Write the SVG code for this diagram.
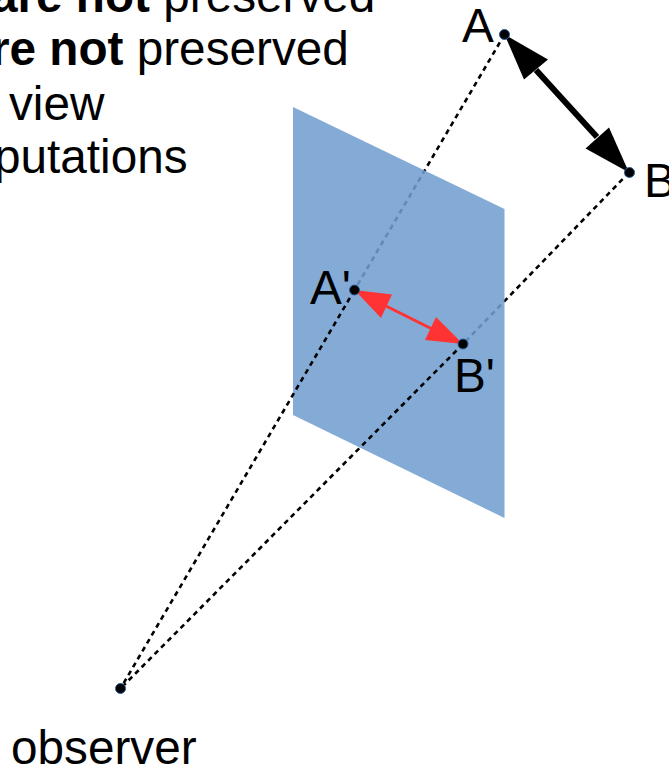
<svg xmlns="http://www.w3.org/2000/svg" width="669" height="767" viewBox="0 0 669 767">
<style>
text{font-family:"Liberation Sans",Arial,sans-serif;font-size:47.7px;fill:#000}
.b{font-weight:700}
.dash{fill:none;stroke:#000;stroke-width:2.6;stroke-dasharray:5 4.2}
.dot{fill:#000;stroke:#2a5a9a;stroke-width:1}
.k{fill:#000}.r{fill:#ff3333}
</style>
<rect width="669" height="767" fill="#fff"/>
<g id="caption">
<text x="-9" y="12"><tspan class="b">are not</tspan> preserved</text>
<text x="-9" y="65"><tspan class="b">re not</tspan> preserved</text>
<text x="9" y="120">view</text>
<text x="-6" y="173">putations</text>
</g>
<g id="connectors-behind">
<path class="dash" d="M504.500 34.500L354.500 290M629 172.500L463 344"/>
</g>
<g id="plane"><polygon points="293,107 504.500,209 504.500,518 293,415" fill="#729fcf" fill-opacity=".87"/></g>
<g id="connectors">
<path class="dash" d="M354.500 290L120.500 688.500M463 344L120.500 688.500"/>
<path d="M536 70L597 137" fill="none" stroke="#000" stroke-width="6"/>
<polygon class="k" points="504.500,34.500 548,59.500 524,79.500"/>
<polygon class="k" points="629,172.500 609,127.500 585.500,148.500"/>
<path d="M386 306L431 328.500" fill="none" stroke="#ff3333" stroke-width="3"/>
<polygon class="r" points="354.500,290 392,294.500 381,318"/>
<polygon class="r" points="463,344 436,317 425,340"/>
</g>
<g id="node-A"><circle class="dot" cx="504.500" cy="34.500" r="5"/><text x="462" y="42">A</text></g>
<g id="node-B"><circle class="dot" cx="629.500" cy="172.500" r="5"/><text x="644" y="197">B</text></g>
<g id="node-A-prime"><circle class="dot" cx="354.500" cy="290" r="5"/><text x="310" y="304">A'</text></g>
<g id="node-B-prime"><circle class="dot" cx="463" cy="344" r="5"/><text x="454" y="392">B'</text></g>
<g id="node-observer"><circle class="dot" cx="120.500" cy="688.500" r="5"/><text x="11" y="764">observer</text></g>
</svg>
